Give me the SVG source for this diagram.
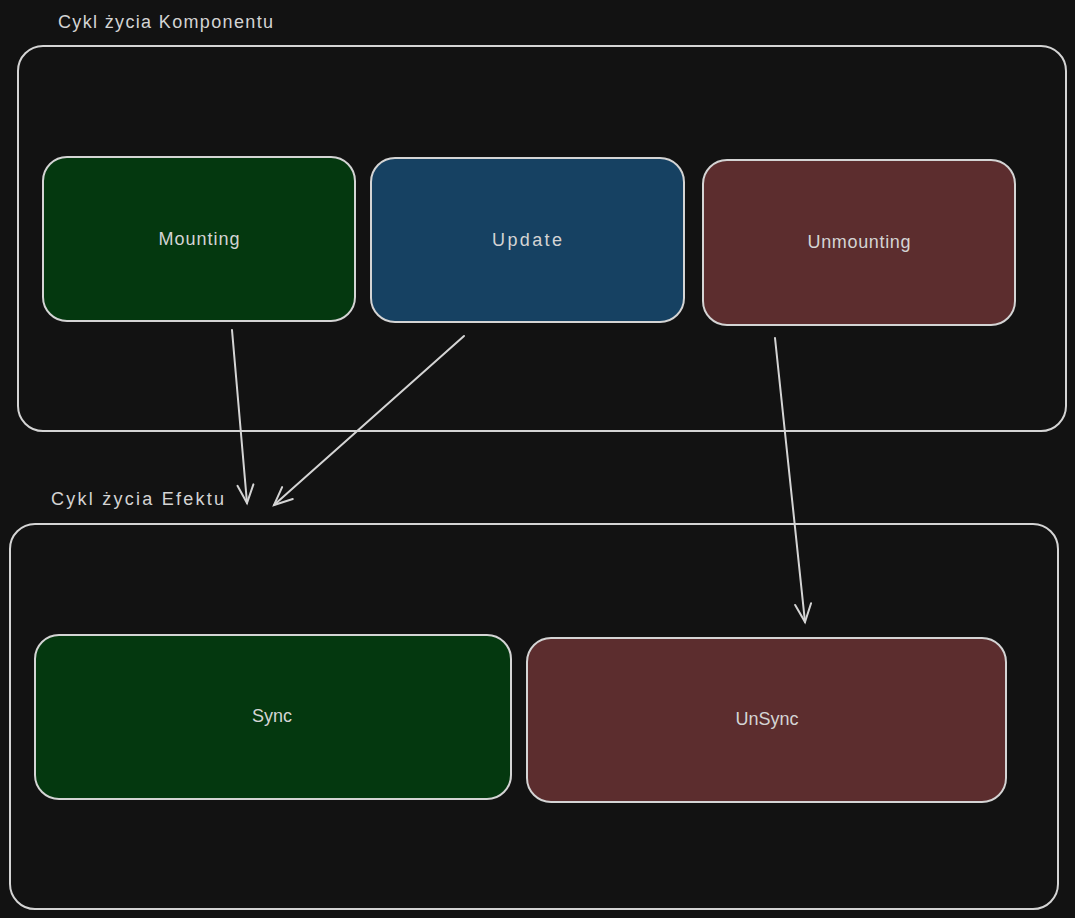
<svg xmlns="http://www.w3.org/2000/svg" width="1075" height="918" viewBox="0 0 1075 918">
<defs>
<style>
.frame{fill:none;stroke:#d4d4d4;stroke-width:2}
.box{stroke:#d4d4d4;stroke-width:2}
.lbl{font-family:"Liberation Sans",Arial,sans-serif;font-size:18px;fill:#d4d4d4;text-anchor:middle}
.ttl{font-family:"Liberation Sans",Arial,sans-serif;font-size:18px;fill:#d4d4d4}
.conn{fill:none;stroke:#d4d4d4;stroke-width:2;stroke-linecap:round}
</style>
<marker id="arr" markerWidth="24" markerHeight="24" refX="20" refY="12" orient="auto" markerUnits="userSpaceOnUse">
<path d="M2,4 L20,12 L2,20" fill="none" stroke="#d4d4d4" stroke-width="2" stroke-linecap="round"/>
</marker>
</defs>
<rect width="1075" height="918" fill="#121212"/>
<g id="lifecycle-component">
<text class="ttl" x="58" y="28" textLength="215" lengthAdjust="spacing">Cykl życia Komponentu</text>
<rect class="frame" x="18" y="46" width="1048" height="385" rx="25"/>
</g>
<g id="lifecycle-effect">
<text class="ttl" x="51" y="505" textLength="173" lengthAdjust="spacing">Cykl życia Efektu</text>
<rect class="frame" x="10" y="524" width="1048" height="385" rx="25"/>
</g>
<g id="mounting">
<rect class="box" x="43" y="157" width="312" height="164" rx="24" fill="#04380f"/>
<text class="lbl" x="199" y="245" textLength="81" lengthAdjust="spacing">Mounting</text>
</g>
<g id="update">
<rect class="box" x="371" y="158" width="313" height="164" rx="24" fill="#164162"/>
<text class="lbl" x="527" y="246" textLength="70" lengthAdjust="spacing">Update</text>
</g>
<g id="unmounting">
<rect class="box" x="703" y="160" width="312" height="165" rx="24" fill="#5c2d2e"/>
<text class="lbl" x="859" y="248" textLength="103" lengthAdjust="spacing">Unmounting</text>
</g>
<g id="sync">
<rect class="box" x="35" y="635" width="476" height="164" rx="24" fill="#04380f"/>
<text class="lbl" x="272" y="722">Sync</text>
</g>
<g id="unsync">
<rect class="box" x="527" y="638" width="479" height="164" rx="24" fill="#5c2d2e"/>
<text class="lbl" x="767" y="725">UnSync</text>
</g>
<g id="connectors">
<path class="conn" d="M232,330 L247,503" marker-end="url(#arr)"/>
<path class="conn" d="M464,336 L274,505" marker-end="url(#arr)"/>
<path class="conn" d="M775,338 L805,622" marker-end="url(#arr)"/>
</g>
</svg>
